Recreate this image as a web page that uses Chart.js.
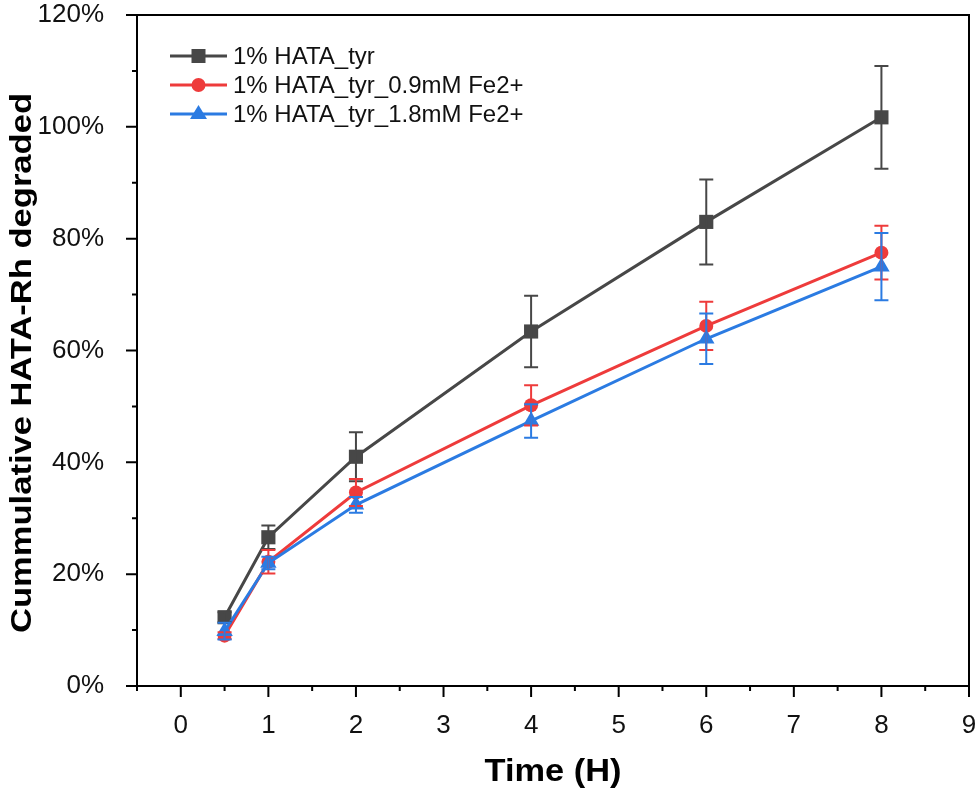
<!DOCTYPE html>
<html>
<head>
<meta charset="utf-8">
<script src="https://cdn.jsdelivr.net/npm/chart.js@4.4.1/dist/chart.umd.min.js"></script>
<style>
  html, body { margin: 0; padding: 0; background: #fff; }
  #wrap { width: 980px; height: 796px; }
</style>
</head>
<body>
<div id="wrap"><canvas id="degraded"></canvas></div>
<script>
// values (percent)
var hours = [0.5, 1, 2, 4, 6, 8];
var tyr = [12.3, 26.6, 41.0, 63.4, 83.0, 101.7];
var tyrErr = [0.9, 2.1, 4.4, 6.4, 7.6, 9.2];
var fe09 = [9.0, 22.2, 34.6, 50.2, 64.4, 77.5];
var fe09Err = [0.6, 2.1, 2.4, 3.6, 4.3, 4.8];
var fe18 = [9.8, 22.0, 32.4, 47.4, 62.1, 75.0];
var fe18Err = [1.5, 1.1, 1.4, 3.0, 4.5, 6.0];
var seriesNames = ["1% HATA_tyr", "1% HATA_tyr_0.9mM Fe2+", "1% HATA_tyr_1.8mM Fe2+"];
var xTickLabels = ["0", "1", "2", "3", "4", "5", "6", "7", "8", "9"];
var yTickLabels = ["0%", "20%", "40%", "60%", "80%", "100%", "120%"];
var xTitle = "Time (H)";
var yTitle = "Cummulative HATA-Rh degraded";

var FONT = "'Liberation Sans', Arial, sans-serif";

function pts(xs, ys) {
    return xs.map(function (x, i) { return { x: x, y: ys[i] }; });
}

function marker(ctx, style, x, y, color) {
    ctx.save();
    ctx.fillStyle = color;
    ctx.beginPath();
    if (style === "rect") {
        ctx.rect(x - 7, y - 7, 14, 14);
    } else if (style === "circle") {
        ctx.arc(x, y, 7, 0, Math.PI * 2);
    } else {
        ctx.moveTo(x, y - 9);
        ctx.lineTo(x + 8.5, y + 5);
        ctx.lineTo(x - 8.5, y + 5);
        ctx.closePath();
    }
    ctx.fill();
    ctx.restore();
}

// the titles in the figure are stretched along their length
function stretchedText(ctx, text, cx, cy, angle, size, length) {
    ctx.save();
    ctx.font = "bold " + size + "px " + FONT;
    ctx.fillStyle = "#000";
    ctx.textAlign = "center";
    ctx.textBaseline = "middle";
    ctx.translate(cx, cy);
    ctx.rotate(angle);
    ctx.scale(length / ctx.measureText(text).width, 1);
    ctx.fillText(text, 0, 0);
    ctx.restore();
}

// error bars, outward ticks, frame, titles and legend
var extras = {
    id: "extras",
    afterDatasetsDraw: function (chart) {
        var ctx = chart.ctx;
        var xs = chart.scales.x, ys = chart.scales.y;
        chart.data.datasets.forEach(function (ds) {
            ctx.save();
            ctx.strokeStyle = ds.borderColor;
            ctx.lineWidth = 2;
            ds.data.forEach(function (p, i) {
                var e = ds.errors[i];
                var px = xs.getPixelForValue(p.x);
                var top = ys.getPixelForValue(p.y + e);
                var bot = ys.getPixelForValue(p.y - e);
                ctx.beginPath();
                ctx.moveTo(px, top); ctx.lineTo(px, bot);
                ctx.moveTo(px - 7, top); ctx.lineTo(px + 7, top);
                ctx.moveTo(px - 7, bot); ctx.lineTo(px + 7, bot);
                ctx.stroke();
            });
            ctx.restore();
        });
    },
    afterDraw: function (chart) {
        var ctx = chart.ctx;
        var a = chart.chartArea;
        var xs = chart.scales.x, ys = chart.scales.y;
        ctx.save();
        ctx.strokeStyle = "#000";
        ctx.lineWidth = 2;
        ctx.beginPath();
        ctx.moveTo(a.left, a.top); ctx.lineTo(a.right, a.top); ctx.lineTo(a.right, a.bottom);
        ys.ticks.forEach(function (t) {
            var py = ys.getPixelForValue(t.value);
            var len = t.value % 20 === 0 ? 11 : 5;
            ctx.moveTo(a.left - len, py); ctx.lineTo(a.left, py);
        });
        xs.ticks.forEach(function (t) {
            var px = xs.getPixelForValue(t.value);
            var len = Number.isInteger(t.value) ? 11 : 5;
            ctx.moveTo(px, a.bottom); ctx.lineTo(px, a.bottom + len);
        });
        ctx.stroke();

        // legend
        ctx.font = "24px " + FONT;
        ctx.textBaseline = "middle";
        chart.data.datasets.forEach(function (ds, i) {
            var ly = a.top + 41 + i * 29;
            ctx.strokeStyle = ds.borderColor;
            ctx.lineWidth = 3;
            ctx.beginPath();
            ctx.moveTo(170, ly); ctx.lineTo(227, ly);
            ctx.stroke();
            marker(ctx, ds.mark, 198.5, ly, ds.borderColor);
            ctx.fillStyle = "#111";
            ctx.fillText(seriesNames[i], 233, ly + 1);
        });
        ctx.restore();

        stretchedText(ctx, xTitle, (a.left + a.right) / 2, 772, 0, 31, 137);
        stretchedText(ctx, yTitle, 23, 363, -Math.PI / 2, 29, 540);
    }
};

function makeSet(i, ys, errs, color, style, radius, order) {
    return {
        label: seriesNames[i],
        data: pts(hours, ys),
        errors: errs,
        mark: style,
        borderColor: color,
        backgroundColor: color,
        borderWidth: 3,
        pointStyle: style,
        pointRadius: radius,
        pointHoverRadius: radius,
        pointBorderWidth: 0,
        tension: 0,
        order: order,
    };
}

var ctx = document.getElementById("degraded").getContext("2d");
var degraded = new Chart(ctx, {
    type: "line",
    data: {
        datasets: [
            makeSet(0, tyr, tyrErr, "#474747", "rect", 10, 2),
            makeSet(1, fe09, fe09Err, "#ee3b3b", "circle", 7, 1),
            makeSet(2, fe18, fe18Err, "#2b7be2", "triangle", 9.5, 0),
        ],
    },
    options: {
        responsive: true,
        maintainAspectRatio: false,
        animation: false,
        events: [],
        layout: { padding: { top: 15, right: 11, left: 0, bottom: 0 } },
        scales: {
            x: {
                type: "linear",
                min: -0.5,
                max: 9,
                grid: { display: false },
                border: { display: true, color: "#000", width: 2 },
                ticks: {
                    stepSize: 0.5,
                    padding: 16,
                    color: "#111",
                    font: { family: FONT, size: 26 },
                    autoSkip: false,
                    maxRotation: 0,
                    callback: function (v) {
                        return Number.isInteger(v) && v >= 0 ? xTickLabels[v] : "";
                    },
                },
                afterFit: function (scale) {
                    scale.height = 110;
                    scale.paddingLeft = 0;
                    scale.paddingRight = 0;
                },
            },
            y: {
                min: 0,
                max: 120,
                grid: { display: false },
                border: { display: true, color: "#000", width: 2 },
                ticks: {
                    stepSize: 10,
                    padding: 25,
                    color: "#111",
                    font: { family: FONT, size: 26 },
                    autoSkip: false,
                    callback: function (v) {
                        return v % 20 === 0 ? yTickLabels[v / 20] : "";
                    },
                },
                afterFit: function (scale) {
                    scale.width = 137;
                    scale.paddingTop = 0;
                    scale.paddingBottom = 0;
                },
            },
        },
        plugins: {
            legend: { display: false },
            tooltip: { enabled: false },
        },
    },
    plugins: [extras],
});
</script>
</body>
</html>
